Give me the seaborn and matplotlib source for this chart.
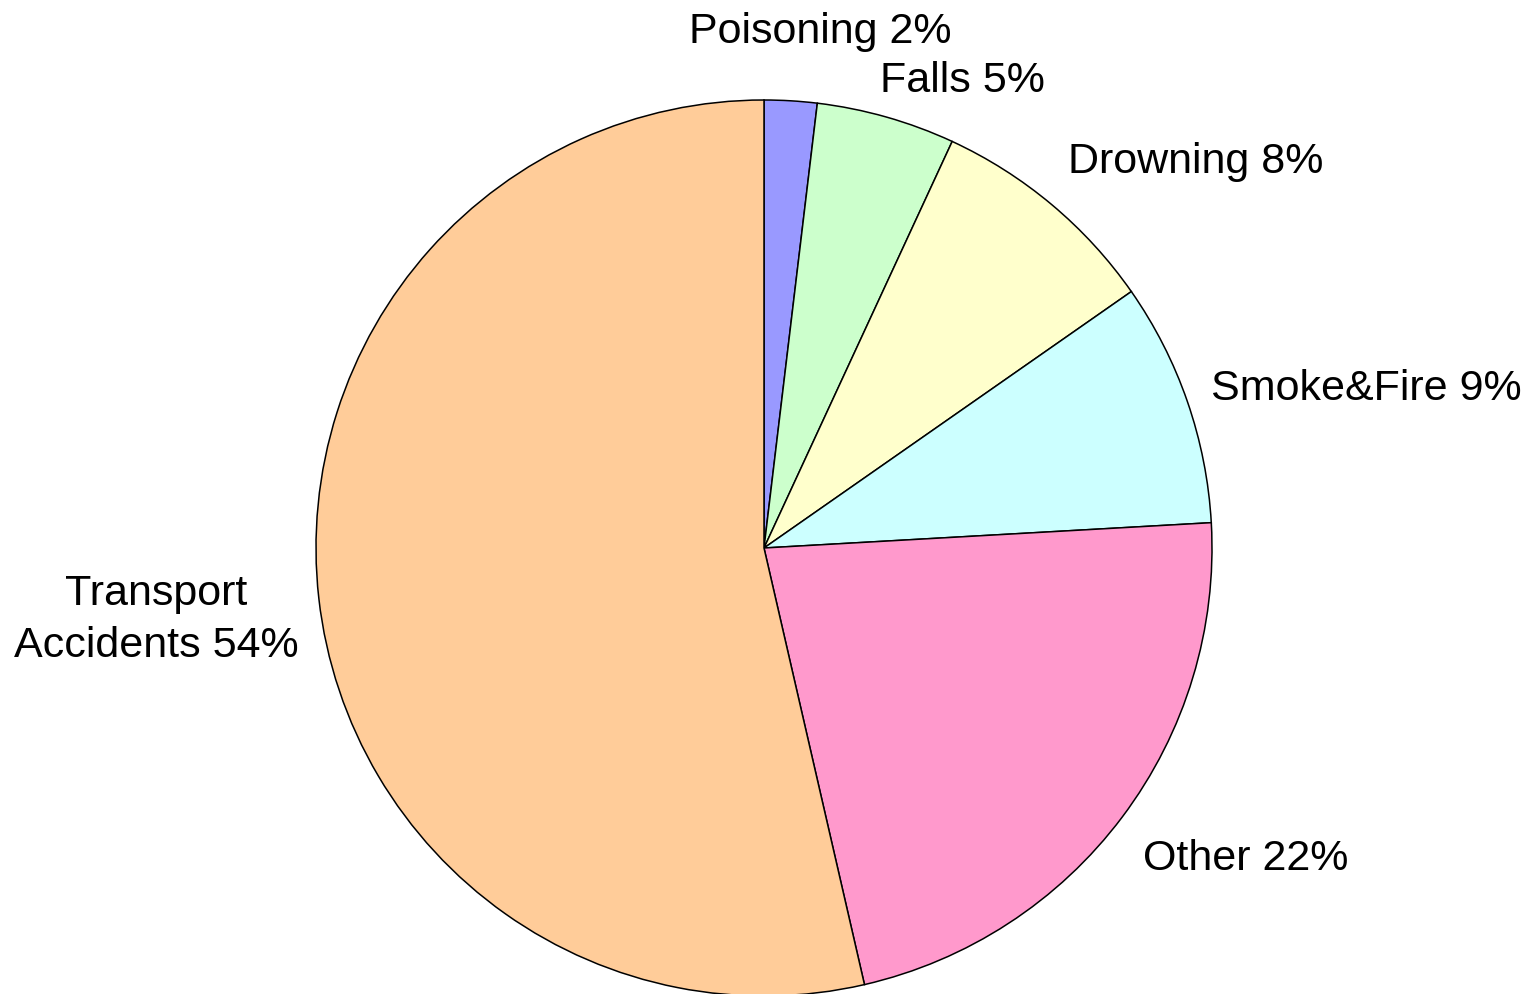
import matplotlib
matplotlib.use("Agg")
import matplotlib.pyplot as plt
import seaborn as sns

# data (shares, labels show rounded values)
causes = ["Poisoning", "Falls", "Drowning", "Smoke&Fire", "Other", "Transport\nAccidents"]
shares = [1.9, 5.0, 8.4, 8.8, 22.3, 53.6]
colors = ["#9999FF", "#CCFFCC", "#FFFFCC", "#CCFFFF", "#FF99CC", "#FFCC99"]

# label anchor in pixels: x centre, y of last baseline (from top)
label_px = [(820, 43), (962, 92), (1196, 173), (1366, 400), (1246, 870), (156, 657)]

sns.set_style("white")
plt.rcParams['font.family'] = ['Liberation Sans', 'DejaVu Sans']

W, H = 1536, 994
cx, cy, r = 764, 548, 448

fig = plt.figure(figsize=(W / 100, H / 100), dpi=100)
ax = fig.add_axes([0, 0, 1, 1])

labels = [f"{c} {s:.0f}%" for c, s in zip(causes, shares)]
wedges, texts = ax.pie(
    shares,
    labels=labels,
    colors=sns.color_palette(colors),
    startangle=90,
    counterclock=False,
    radius=1,
    wedgeprops=dict(edgecolor="black", linewidth=1.1),
    textprops=dict(fontsize=31, color="black"),
)

for t, (px, py) in zip(texts, label_px):
    t.set_position(((px - cx) / r, (cy - py) / r))
    t.set_horizontalalignment("center")
    t.set_verticalalignment("baseline")
    t.set_multialignment("center")
    t.set_linespacing(1.4)

ax.set_xlim(-cx / r, (W - cx) / r)
ax.set_ylim(-(H - cy) / r, cy / r)
ax.set_aspect("equal")
ax.axis("off")

fig.savefig("out.png", dpi=100)
